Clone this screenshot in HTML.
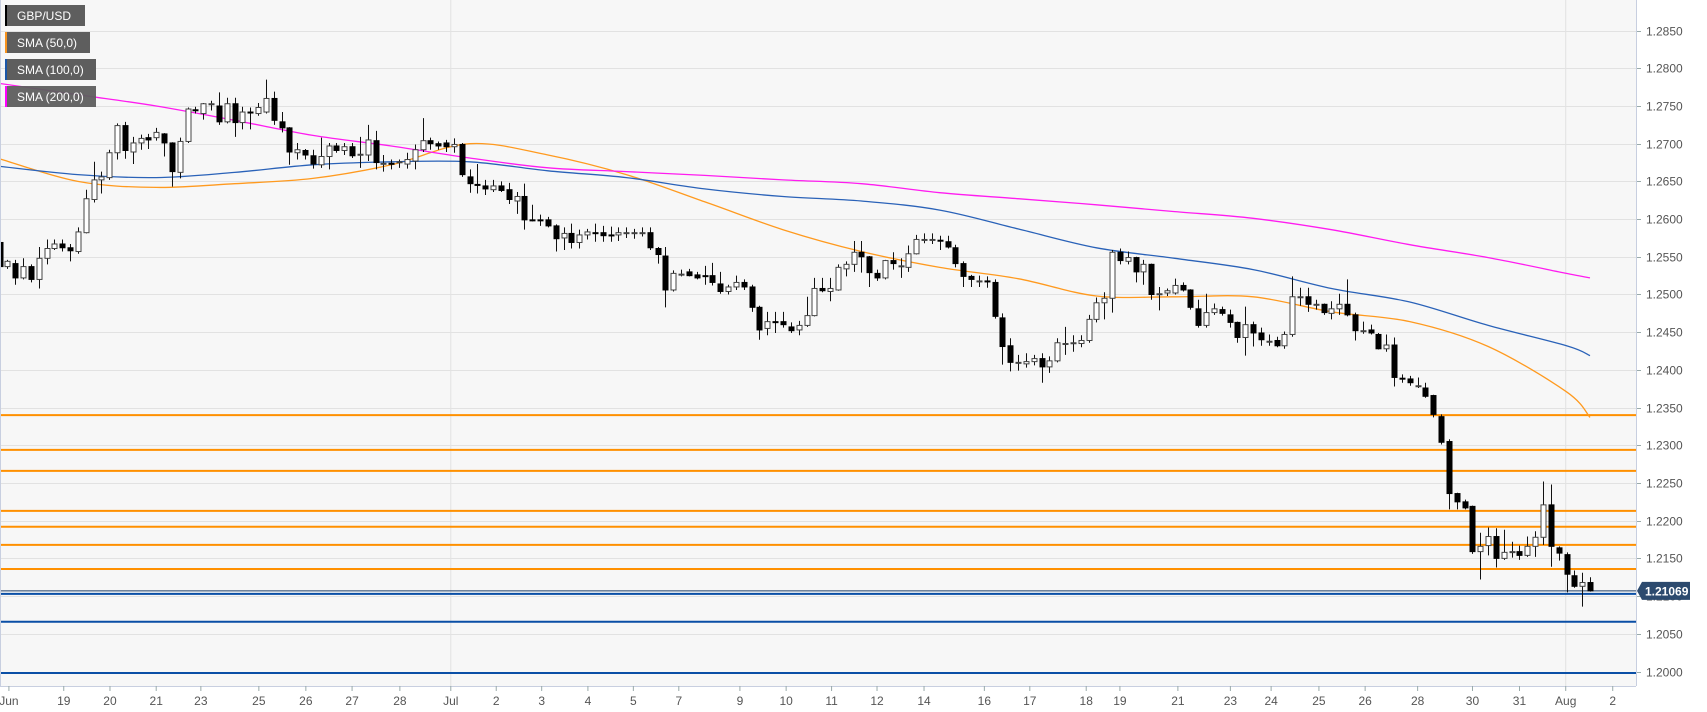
<!DOCTYPE html>
<html><head><meta charset="utf-8"><style>
html,body{margin:0;padding:0;background:#fff;}
svg{display:block;font-family:"Liberation Sans",sans-serif;}
</style></head><body>
<svg id="chart" width="1707" height="712" viewBox="0 0 1707 712" xmlns="http://www.w3.org/2000/svg">
<rect x="0" y="0" width="1636" height="686" fill="#f7f7f7"/>
<g id="grid"></g><g id="levels"></g><g id="smas"></g><g id="candles"></g><g id="axes"></g>
<g>
<g><rect x="5" y="5" width="80" height="21" fill="#5e5e5e"/><rect x="5" y="5" width="2" height="21" fill="#000"/><text x="17" y="20" font-size="12" fill="#fff">GBP/USD</text></g>
<g><rect x="5" y="32" width="85" height="21" fill="#5e5e5e"/><rect x="5" y="32" width="2" height="21" fill="#f7931e"/><text x="17" y="47" font-size="12" fill="#fff">SMA (50,0)</text></g>
<g><rect x="5" y="59" width="91" height="21" fill="#5e5e5e"/><rect x="5" y="59" width="2" height="21" fill="#1a56a8"/><text x="17" y="74" font-size="12" fill="#fff">SMA (100,0)</text></g>
<g><rect x="5" y="86" width="91" height="21" fill="#5e5e5e" fill-opacity="0.95"/><rect x="5" y="86" width="2" height="21" fill="#ff00ff"/><text x="17" y="101" font-size="12" fill="#fff">SMA (200,0)</text></g>
</g>
</svg>
<script>
const ohlc = [
[2569,2573,2533,2537],[2537,2546,2534,2544],[2541,2546,2513,2522],[2522,2548,2520,2537],[2537,2540,2516,2520],
[2520,2563,2508,2548],[2548,2573,2540,2561],[2561,2573,2559,2567],[2567,2573,2557,2562],[2562,2567,2544,2558],
[2557,2589,2554,2583],[2582,2639,2581,2627],[2626,2676,2622,2652],[2652,2663,2634,2656],[2655,2692,2652,2688],
[2688,2727,2679,2724],[2724,2729,2680,2691],[2689,2709,2673,2701],[2701,2712,2692,2707],[2708,2713,2693,2705],
[2708,2721,2704,2715],[2713,2714,2683,2701],[2701,2702,2643,2663],[2662,2708,2654,2703],[2703,2748,2701,2746],
[2745,2749,2740,2744],[2740,2754,2732,2753],[2753,2757,2744,2753],[2750,2768,2725,2729],[2729,2761,2727,2753],
[2753,2761,2709,2728],[2728,2749,2719,2742],[2742,2748,2719,2741],[2740,2754,2737,2748],[2742,2785,2740,2760],
[2760,2769,2725,2731],[2729,2742,2715,2721],[2721,2722,2672,2689],[2688,2701,2679,2692],[2691,2693,2679,2685],
[2684,2692,2667,2673],[2672,2708,2668,2683],[2683,2701,2666,2697],[2697,2701,2688,2691],[2691,2701,2685,2696],
[2696,2701,2681,2684],[2685,2709,2668,2686],[2685,2725,2677,2705],[2704,2717,2666,2675],[2673,2685,2663,2674],
[2674,2679,2666,2673],[2675,2679,2668,2676],[2673,2688,2667,2679],[2677,2699,2666,2692],[2692,2734,2689,2704],
[2704,2708,2692,2700],[2700,2703,2692,2697],[2701,2705,2689,2696],[2696,2707,2688,2699],[2699,2701,2656,2659],
[2656,2666,2635,2647],[2646,2673,2634,2645],[2644,2652,2632,2640],[2639,2652,2636,2644],[2644,2650,2636,2638],
[2639,2648,2620,2626],[2624,2636,2607,2630],[2630,2647,2586,2599],[2599,2619,2597,2598],[2599,2606,2591,2598],
[2599,2603,2589,2591],[2591,2593,2557,2574],[2575,2589,2559,2581],[2581,2594,2561,2569],[2569,2586,2561,2579],
[2579,2587,2573,2583],[2582,2594,2570,2581],[2582,2591,2570,2578],[2579,2590,2570,2578],[2579,2589,2571,2582],
[2582,2589,2575,2582],[2582,2587,2574,2582],[2582,2589,2577,2582],[2582,2589,2559,2562],[2561,2563,2541,2553],
[2551,2563,2483,2506],[2506,2532,2504,2528],[2526,2533,2524,2527],[2530,2534,2524,2525],[2526,2530,2520,2522],
[2525,2538,2513,2524],[2525,2542,2512,2516],[2514,2530,2501,2504],[2504,2513,2500,2510],[2510,2525,2506,2516],
[2516,2520,2506,2510],[2510,2513,2477,2483],[2483,2485,2440,2453],[2455,2477,2446,2464],[2464,2477,2449,2463],
[2464,2477,2456,2460],[2457,2463,2449,2452],[2453,2465,2446,2459],[2459,2497,2457,2472],[2472,2522,2471,2508],
[2508,2522,2503,2505],[2504,2522,2491,2508],[2506,2540,2505,2536],[2534,2544,2524,2540],[2540,2571,2530,2556],
[2556,2571,2529,2550],[2550,2551,2510,2529],[2528,2533,2518,2522],[2522,2546,2520,2545],[2545,2556,2533,2541],
[2537,2548,2522,2538],[2536,2565,2530,2554],[2554,2579,2553,2573],[2573,2581,2568,2573],[2573,2581,2567,2573],
[2572,2578,2559,2571],[2570,2578,2561,2563],[2562,2566,2536,2541],[2541,2544,2510,2524],[2524,2526,2510,2520],
[2518,2525,2510,2518],[2518,2524,2509,2517],[2516,2520,2468,2471],[2469,2475,2407,2431],[2432,2442,2398,2410],
[2410,2420,2399,2410],[2408,2422,2403,2411],[2411,2420,2406,2415],[2415,2422,2383,2404],[2404,2418,2396,2412],
[2412,2442,2410,2436],[2435,2457,2420,2435],[2436,2446,2424,2436],[2435,2446,2430,2439],[2439,2473,2436,2467],
[2467,2496,2463,2489],[2489,2503,2467,2495],[2495,2559,2476,2556],[2556,2561,2540,2545],[2544,2557,2540,2549],
[2549,2550,2516,2530],[2530,2546,2513,2540],[2540,2541,2493,2500],[2501,2510,2479,2501],[2502,2508,2498,2505],
[2502,2521,2500,2512],[2512,2516,2504,2506],[2506,2507,2480,2483],[2481,2493,2456,2459],[2459,2501,2456,2476],
[2476,2488,2473,2481],[2480,2484,2472,2475],[2473,2480,2456,2463],[2463,2464,2436,2443],[2443,2484,2419,2460],
[2460,2464,2431,2449],[2449,2456,2432,2440],[2438,2447,2432,2438],[2439,2444,2430,2432],[2432,2451,2428,2447],
[2447,2524,2444,2497],[2497,2509,2485,2497],[2497,2509,2477,2487],[2487,2493,2480,2487],[2487,2488,2473,2476],
[2475,2491,2467,2481],[2481,2501,2473,2487],[2487,2520,2471,2473],[2473,2476,2439,2452],[2452,2464,2448,2452],
[2453,2460,2447,2449],[2447,2449,2427,2428],[2428,2447,2424,2433],[2433,2443,2378,2390],[2389,2394,2383,2388],
[2388,2392,2379,2383],[2379,2390,2376,2379],[2376,2383,2363,2365],[2366,2367,2337,2341],[2338,2341,2301,2304],
[2305,2308,2215,2236],[2236,2237,2215,2225],[2225,2228,2215,2217],[2219,2220,2156,2159],[2159,2184,2122,2166],
[2167,2191,2154,2179],[2179,2190,2138,2150],[2150,2188,2148,2158],[2159,2172,2151,2159],[2159,2167,2148,2154],
[2154,2179,2152,2166],[2166,2186,2152,2178],[2178,2252,2168,2221],[2221,2248,2139,2166],[2164,2166,2147,2157],
[2155,2158,2105,2129],[2127,2134,2111,2113],[2113,2131,2086,2118],[2118,2125,2106,2107]
];
const smaIdx = [0,10,20,30,40,50,60,70,80,90,100,110,120,130,140,150,160,170,180,190,200,203];
const sma50 = [1.2680,1.2650,1.2642,1.2647,1.2654,1.2672,1.2700,1.2685,1.2659,1.2623,1.2586,1.2557,1.2536,1.2521,1.2498,1.2497,1.2497,1.2477,1.2464,1.2431,1.2371,1.2337];
const sma100 = [1.2670,1.2659,1.2655,1.2662,1.2672,1.2676,1.2676,1.2664,1.2655,1.2640,1.2630,1.2624,1.2612,1.2587,1.2562,1.2548,1.2533,1.2508,1.2490,1.2459,1.2432,1.2419];
const sma200 = [1.2780,1.2765,1.2750,1.2731,1.2711,1.2697,1.2681,1.2668,1.2663,1.2658,1.2652,1.2647,1.2635,1.2627,1.2619,1.2610,1.2601,1.2586,1.2566,1.2549,1.2528,1.2522];
const orangeLevels = [1.2340,1.2294,1.2266,1.2213,1.2192,1.2168,1.2136];
const blueLevels = [1.2103,1.2066,1.1998];
const lastPrice = 1.21069;
const priceTicks = [1.2000,1.2050,1.2100,1.2150,1.2200,1.2250,1.2300,1.2350,1.2400,1.2450,1.2500,1.2550,1.2600,1.2650,1.2700,1.2750,1.2800,1.2850];
const dateLabels = ["Jun","19","20","21","23","25","26","27","28","Jul","2","3","4","5","7","9","10","11","12","14","16","17","18","19","21","23","24","25","26","28","30","31","Aug","2"];
const dateIdx = [1.2,8.2,14.1,20,25.7,33.1,39.1,45,51.1,57.6,63.4,69.2,75.1,80.9,86.7,94.5,100.4,106.2,112,118,125.7,131.5,138.7,143,150.4,157.1,162.3,168.4,174.3,181,188,194,199.9,205.9];
const NS="http://www.w3.org/2000/svg";
const yOf = p => 671.5 - (p - 1.2) * 7540;
const xOf = k => -0.5 + 7.835 * k;
const pr = v => 1 + v / 10000;
function mk(tag, attrs, parent){const e=document.createElementNS(NS,tag);for(const k in attrs)e.setAttribute(k,attrs[k]);parent.appendChild(e);return e;}
const grid=document.getElementById('grid'), lv=document.getElementById('levels'), sm=document.getElementById('smas'), cd=document.getElementById('candles'), ax=document.getElementById('axes');
priceTicks.forEach(p=>{
  const y=Math.round(yOf(p))+0.5;
  const l=mk('line',{x1:0,x2:1636,y1:y,y2:y,stroke:'#e2e2e2','stroke-width':1},grid);
  
  
  const t=mk('line',{x1:1636,x2:1641,y1:y,y2:y,stroke:'#9aa','stroke-width':1},ax);
  
  
  const tx=mk('text',{x:1646,y:y+4,'font-size':12,fill:'#555'},ax);
  tx.textContent=p.toFixed(4);
  
  
});
[57.6,199.9].forEach(k=>{
  const l=mk('line',{x1:xOf(k),x2:xOf(k),y1:0,y2:686,stroke:'#e2e2e2'},grid);
  
  
});
orangeLevels.forEach(p=>{
  const l=mk('line',{x1:0,x2:1636,y1:yOf(p),y2:yOf(p),stroke:'#ff9000','stroke-width':2},lv);
  
  
});
blueLevels.forEach(p=>{
  const l=mk('line',{x1:0,x2:1636,y1:yOf(p),y2:yOf(p),stroke:'#0a4fa6','stroke-width':2},lv);
  
  
});
const lp=mk('line',{x1:0,x2:1636,y1:yOf(lastPrice),y2:yOf(lastPrice),stroke:'#1f3e66','stroke-width':1},lv);


function smoothPath(pts){
  let d='M'+pts[0][0].toFixed(1)+','+pts[0][1].toFixed(1);
  for(let i=0;i<pts.length-1;i++){
    const p0=pts[Math.max(i-1,0)],p1=pts[i],p2=pts[i+1],p3=pts[Math.min(i+2,pts.length-1)];
    const c1x=p1[0]+(p2[0]-p0[0])/6,c1y=p1[1]+(p2[1]-p0[1])/6;
    const c2x=p2[0]-(p3[0]-p1[0])/6,c2y=p2[1]-(p3[1]-p1[1])/6;
    d+=' C'+c1x.toFixed(1)+','+c1y.toFixed(1)+' '+c2x.toFixed(1)+','+c2y.toFixed(1)+' '+p2[0].toFixed(1)+','+p2[1].toFixed(1);
  }
  return d;
}
[[sma50,'#ff9a1f','sma-50-line'],[sma100,'#2a62b8','sma-100-line'],[sma200,'#ff1cf0','sma-200-line']].forEach(([arr,c,n])=>{
  const pts=arr.map((v,i)=>[xOf(smaIdx[i]),yOf(v)]);
  const pl=mk('path',{d:smoothPath(pts),fill:'none',stroke:c,'stroke-width':1.3},sm);
  
  
});
ohlc.forEach((c,k)=>{
  const o=pr(c[0]),h=pr(c[1]),l=pr(c[2]),cl=pr(c[3]);
  const x=Math.round(xOf(k))+0.5;
  const g=mk('g',{},cd);
  
  
  mk('line',{x1:x,x2:x,y1:yOf(h),y2:yOf(l),stroke:'#111','stroke-width':1},g);
  const top=yOf(Math.max(o,cl)), bot=yOf(Math.min(o,cl));
  const up=cl>=o;
  mk('rect',{x:x-2.5,y:top,width:5,height:Math.max(bot-top,1),fill:up?'#fff':'#000',stroke:up?'#444':'#000','stroke-width':1},g);
});
mk('line',{x1:1636.5,x2:1636.5,y1:0,y2:686,stroke:'#c8cfe0'},ax);
mk('line',{x1:0,x2:1636,y1:686.5,y2:686.5,stroke:'#c8cfe0'},ax);
mk('line',{x1:0.5,x2:0.5,y1:0,y2:686,stroke:'#c8cfe0'},ax);
dateLabels.forEach((d,i)=>{
  const x=xOf(dateIdx[i]);
  mk('line',{x1:x,x2:x,y1:686,y2:691,stroke:'#9aa'},ax);
  const t=mk('text',{x:x,y:705,'font-size':12,fill:'#555','text-anchor':'middle'},ax);
  t.textContent=d;
  
  
});
const ty=yOf(lastPrice);
const tag=mk('g',{},ax);


mk('path',{d:`M1637 ${ty} L1642 ${ty-9} L1690 ${ty-9} L1690 ${ty+9} L1642 ${ty+9} Z`,fill:'#2c4a6e'},tag);
const tt=mk('text',{x:1645,y:ty+4.5,'font-size':12,'font-weight':'bold',fill:'#fff'},tag);
tt.textContent=lastPrice.toFixed(5);
</script>
</body></html>
